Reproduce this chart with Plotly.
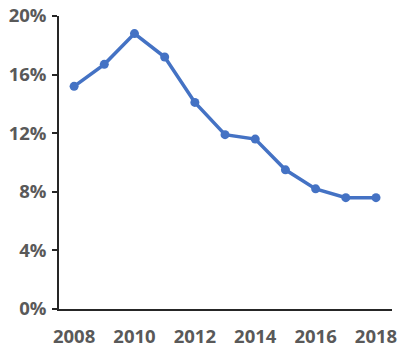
import plotly.graph_objects as go

years = [2008, 2009, 2010, 2011, 2012, 2013, 2014, 2015, 2016, 2017, 2018]
rates = [15.2, 16.7, 18.8, 17.2, 14.1, 11.9, 11.6, 9.5, 8.2, 7.6, 7.6]
y_ticks = [0, 4, 8, 12, 16, 20]
x_ticks = [2008, 2010, 2012, 2014, 2016, 2018]

fig = go.Figure(go.Scatter(
    x=years, y=rates, mode="lines+markers",
    line=dict(color="#4472C4", width=3.5),
    marker=dict(color="#4472C4", size=9),
    cliponaxis=False,
))

font = dict(family="Open Sans", size=18.5, color="#595959", weight="bold")
fig.update_layout(
    width=400, height=349,
    margin=dict(l=59, r=8, t=16, b=40),
    paper_bgcolor="white", plot_bgcolor="white",
    showlegend=False,
    font=font,
)
fig.update_xaxes(
    range=[2007.5, 2018.53], tickvals=x_ticks, ticktext=[str(v) for v in x_ticks],
    showgrid=False, zeroline=False, showline=True, linecolor="#262626", linewidth=1.5,
    ticks="", tickfont=font, ticklabelstandoff=10, automargin=False,
)
fig.update_yaxes(
    range=[0, 20], tickvals=y_ticks, ticktext=[f"{v}%" for v in y_ticks],
    showgrid=False, zeroline=False, showline=True, linecolor="#262626", linewidth=1.5,
    ticks="outside", ticklen=5, tickwidth=1.5, tickcolor="#262626", tickfont=font,
    ticklabelstandoff=2, automargin=False,
)

fig.write_html("out.html")
